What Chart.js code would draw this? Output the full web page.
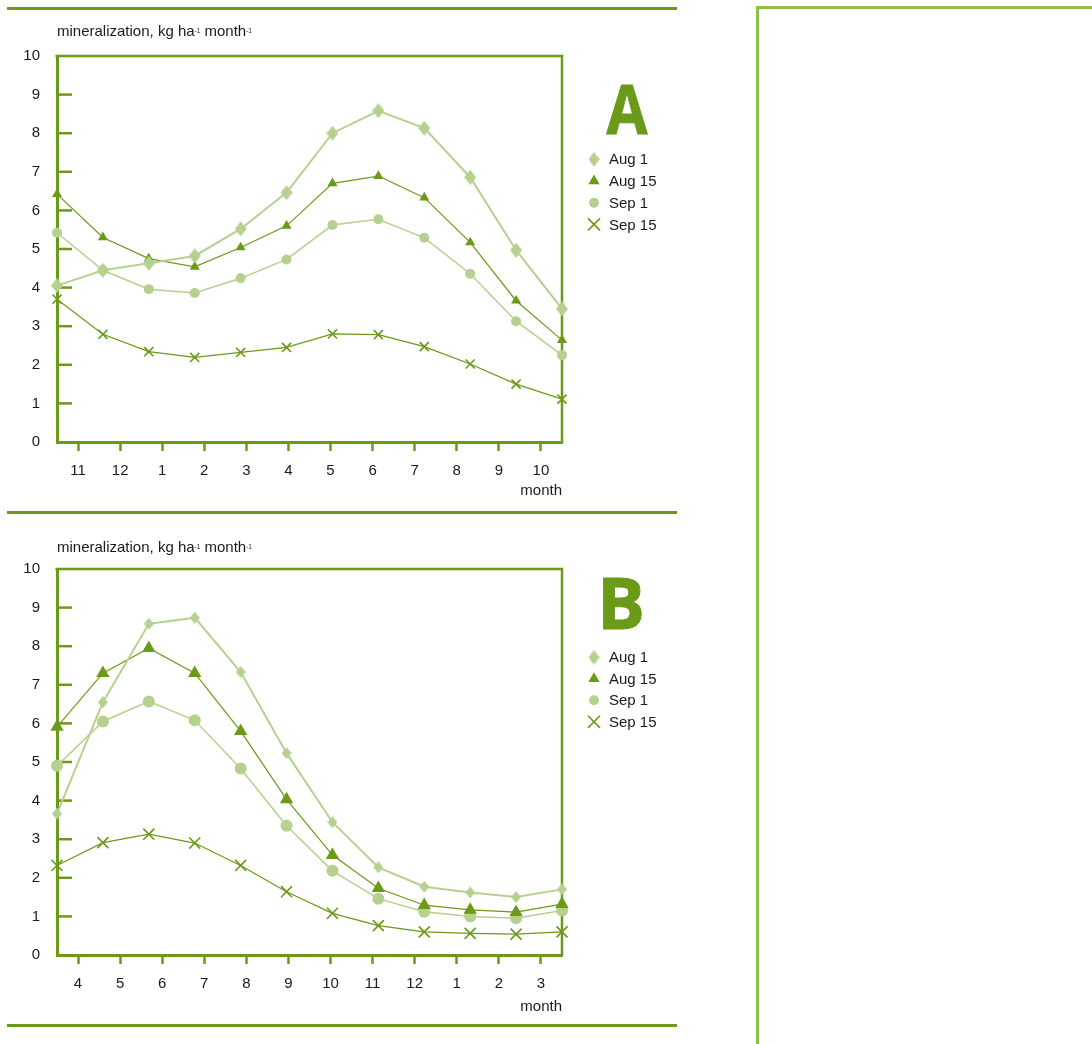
<!DOCTYPE html>
<html>
<head>
<meta charset="utf-8">
<script src="https://cdn.jsdelivr.net/npm/chart.js@4.4.0/dist/chart.umd.min.js"></script>
<style>
  body { margin: 0; background: #fff; }
  #page { position: relative; width: 1092px; height: 1044px; overflow: hidden; }
  .panel { position: absolute; left: 0; }
  .rule { position: absolute; left: 7px; width: 670px; height: 3px; background: #6a9a17; }
  #side { position: absolute; left: 756px; top: 6px; width: 400px; height: 1100px;
          border-left: 3px solid #8cc04a; border-top: 3px solid #8cc04a; }
</style>
</head>
<body>
<div id="page">
  <canvas id="chartA" class="panel" width="680" height="510" style="top:0"></canvas>
  <canvas id="chartB" class="panel" width="680" height="531" style="top:513px"></canvas>
  <div class="rule" style="top:7px"></div>
  <div class="rule" style="top:511px"></div>
  <div class="rule" style="top:1024px"></div>
  <div id="side"></div>
</div>
<script>
const DARK = '#6a9a17';
const LIGHT = '#b5d08f';
const INK = '#1a1a1a';
const FONT = '"Liberation Sans", Arial, sans-serif';

// data
const seriesNames = ['Aug 1', 'Aug 15', 'Sep 1', 'Sep 15'];
const monthsA = ['11', '12', '1', '2', '3', '4', '5', '6', '7', '8', '9', '10'];
const monthsB = ['4', '5', '6', '7', '8', '9', '10', '11', '12', '1', '2', '3'];
const yMin = 0, yMax = 10, yStep = 1;

const aAug1  = [4.05, 4.45, 4.63, 4.82, 5.52, 6.46, 8.00, 8.58, 8.13, 6.86, 4.97, 3.45];
const aAug15 = [6.42, 5.30, 4.75, 4.54, 5.04, 5.60, 6.70, 6.89, 6.33, 5.17, 3.66, 2.64];
const aSep1  = [5.42, 4.45, 3.96, 3.86, 4.24, 4.73, 5.62, 5.77, 5.29, 4.36, 3.13, 2.25];
const aSep15 = [3.70, 2.79, 2.34, 2.19, 2.32, 2.45, 2.80, 2.78, 2.47, 2.02, 1.50, 1.11];

const bAug1  = [3.66, 6.55, 8.58, 8.74, 7.33, 5.23, 3.44, 2.27, 1.77, 1.62, 1.50, 1.70];
const bAug15 = [5.91, 7.30, 7.95, 7.30, 5.80, 4.03, 2.59, 1.73, 1.29, 1.17, 1.11, 1.32];
const bSep1  = [4.90, 6.05, 6.57, 6.08, 4.83, 3.35, 2.18, 1.46, 1.12, 1.00, 0.95, 1.15];
const bSep15 = [2.32, 2.91, 3.13, 2.90, 2.32, 1.64, 1.08, 0.76, 0.60, 0.56, 0.54, 0.60];

// tall diamond marker (the built-in rectRot is square)
function makeDiamond(w, h, color) {
    const c = document.createElement('canvas');
    c.width = w;
    c.height = h;
    const g = c.getContext('2d');
    g.fillStyle = color;
    g.beginPath();
    g.moveTo(w / 2, 0);
    g.lineTo(w, h / 2);
    g.lineTo(w / 2, h);
    g.lineTo(0, h / 2);
    g.closePath();
    g.fill();
    return c;
}

// look of each series
const seriesStyle = [
    { color: LIGHT, point: 'diamond', line: 2 },
    { color: DARK, point: 'triangle', line: 1.2 },
    { color: LIGHT, point: 'circle', line: 1.5 },
    { color: DARK, point: 'crossRot', line: 1.2 }
];
const legendRadii = [7, 6.5, 5, 8.5];
const legendDiamond = makeDiamond(11, 15, LIGHT);

function makeDatasets(values, radii, diamond) {
    return values.map((v, i) => ({
        label: seriesNames[i],
        data: v,
        borderColor: seriesStyle[i].color,
        backgroundColor: seriesStyle[i].color,
        borderWidth: seriesStyle[i].line,
        pointStyle: seriesStyle[i].point === 'diamond' ? diamond : seriesStyle[i].point,
        pointRadius: radii[i],
        pointHoverRadius: radii[i],
        pointBackgroundColor: seriesStyle[i].color,
        pointBorderColor: seriesStyle[i].color,
        pointBorderWidth: seriesStyle[i].point === 'crossRot' ? 1.6 : 0,
        tension: 0,
        clip: false,
        xAxisID: 'x',
        yAxisID: 'y'
    }));
}

// frame, inward y ticks, title, letter, legend, "month"
const panelDecor = {
    id: 'panelDecor',
    beforeDatasetsDraw(chart) {
        const ctx = chart.ctx;
        const { left, right, top, bottom } = chart.chartArea;
        const y = chart.scales.y;
        ctx.save();
        ctx.strokeStyle = DARK;
        ctx.lineWidth = 2.5;
        ctx.beginPath();
        ctx.moveTo(left - 1.5, top);
        ctx.lineTo(right, top);
        ctx.lineTo(right, bottom);
        ctx.stroke();
        y.ticks.forEach(t => {
            if (t.value <= yMin || t.value >= yMax) return;
            const py = y.getPixelForValue(t.value);
            ctx.beginPath();
            ctx.moveTo(left, py);
            ctx.lineTo(left + 15, py);
            ctx.stroke();
        });
        ctx.restore();
    },
    afterDraw(chart, args, opts) {
        const ctx = chart.ctx;
        const { left, right } = chart.chartArea;
        ctx.save();
        ctx.fillStyle = INK;
        ctx.textBaseline = 'alphabetic';
        ctx.textAlign = 'left';

        // axis title with superscripts
        let x = left;
        [['mineralization, kg ha', false], ['-1', true], [' month', false], ['-1', true]].forEach(([txt, sup]) => {
            ctx.font = (sup ? '6.5px ' : '15px ') + FONT;
            ctx.fillText(txt, x, sup ? opts.titleBase - 3 : opts.titleBase);
            x += ctx.measureText(txt).width;
        });

        // month label
        ctx.font = '15px ' + FONT;
        ctx.textAlign = 'right';
        ctx.fillText('month', right, opts.monthBase);

        // panel letter, slightly narrower like the original
        ctx.save();
        ctx.fillStyle = DARK;
        ctx.strokeStyle = DARK;
        ctx.lineWidth = 1;
        ctx.textAlign = 'center';
        ctx.font = 'bold ' + opts.letterSize + 'px "Open Sans", sans-serif';
        const m = ctx.measureText(opts.letter);
        const glyphW = m.actualBoundingBoxLeft + m.actualBoundingBoxRight;
        ctx.translate(opts.letterX, opts.letterBase);
        ctx.scale(Math.min(1, 41 / glyphW), 1);
        ctx.fillText(opts.letter, 0, 0);
        ctx.strokeText(opts.letter, 0, 0);
        ctx.restore();

        // legend
        chart.data.datasets.forEach((ds, i) => {
            const ly = opts.legendTop + i * opts.legendStep;
            ctx.fillStyle = ds.pointBackgroundColor;
            ctx.strokeStyle = ds.pointBorderColor;
            ctx.lineWidth = 1.6;
            Chart.helpers.drawPoint(ctx, {
                pointStyle: seriesStyle[i].point === 'diamond' ? legendDiamond : ds.pointStyle,
                radius: legendRadii[i],
                rotation: 0,
                borderWidth: ds.pointStyle === 'crossRot' ? 1.6 : 0
            }, 594, ly);
            ctx.fillStyle = INK;
            ctx.textAlign = 'left';
            ctx.textBaseline = 'middle';
            ctx.font = '15px ' + FONT;
            ctx.fillText(ds.label, 609, ly + 1);
        });
        ctx.restore();
    }
};

function buildChart(id, months, values, radii, diamond, decor) {
    return new Chart(document.getElementById(id), {
        type: 'line',
        data: { labels: months, datasets: makeDatasets(values, radii, diamond) },
        options: {
            responsive: false,
            animation: false,
            events: [],
            layout: { padding: { top: 56, right: 118, left: 0, bottom: 0 } },
            plugins: {
                legend: { display: false },
                tooltip: { enabled: false },
                panelDecor: decor
            },
            scales: {
                x: { type: 'category', offset: false, display: false },
                month: {
                    type: 'category',
                    labels: months,
                    position: 'bottom',
                    offset: true,
                    afterFit: s => { s.height = decor.axisHeight; },
                    border: { display: true, color: DARK, width: 3 },
                    grid: {
                        display: true, drawOnChartArea: false, drawTicks: true, offset: false,
                        tickLength: 9, tickColor: DARK, tickWidth: 2.5
                    },
                    ticks: { color: INK, font: { family: FONT, size: 15 }, padding: 11, maxRotation: 0, autoSkip: false }
                },
                y: {
                    min: yMin,
                    max: yMax,
                    position: 'left',
                    afterFit: s => { s.width = 57; },
                    border: { display: true, color: DARK, width: 3 },
                    grid: { drawOnChartArea: false, drawTicks: false },
                    ticks: { stepSize: yStep, color: INK, font: { family: FONT, size: 15 }, padding: 17 }
                }
            }
        },
        plugins: [panelDecor]
    });
}

buildChart('chartA', monthsA, [aAug1, aAug15, aSep1, aSep15], [6.5, 5.8, 5, 6.4], makeDiamond(12, 15, LIGHT), {
    letter: 'A', letterSize: 68, letterX: 627, letterBase: 133.5, axisHeight: 68, titleBase: 36,
    legendTop: 159.3, legendStep: 21.7, monthBase: 495
});
buildChart('chartB', monthsB, [bAug1, bAug15, bSep1, bSep15], [5.5, 7.7, 6, 7.8], makeDiamond(10, 12, LIGHT), {
    letter: 'B', letterSize: 71, letterX: 621, letterBase: 116, axisHeight: 89, titleBase: 38.7,
    legendTop: 144.3, legendStep: 21.5, monthBase: 498
});
</script>
</body>
</html>
